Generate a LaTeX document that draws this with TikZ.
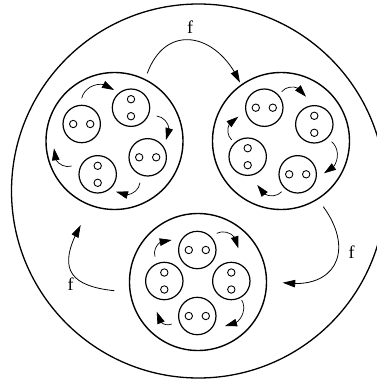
\documentclass[tikz,border=0pt]{standalone}
\usepackage{fontspec}
\setmainfont{Liberation Serif}
\usetikzlibrary{arrows.meta,bending}
\tikzset{
  outerc/.style={circle,draw,line width=1.3pt,minimum size=374pt,inner sep=0pt},
  bigc/.style={circle,draw,line width=1.4pt,minimum size=137pt,inner sep=0pt},
  sc/.style={circle,draw,line width=1.2pt,minimum size=37.4pt,inner sep=0pt},
  dotc/.style={circle,draw,line width=0.9pt,minimum size=7.4pt,inner sep=0pt},
  sarr/.style={line width=0.7pt,-{Triangle[length=12pt,width=7.5pt,flex]}},
  farr/.style={line width=0.8pt,-{Triangle[length=12.5pt,width=7.5pt,flex]}},
  lab/.style={font=\fontsize{18}{21}\selectfont,inner sep=0pt},
}
\newcommand\hball[3]{%
  \node[sc] (#1) at (#2,#3) {};
  \node[dotc] (#1a) at ([xshift=-8.5pt]#1.center) {};
  \node[dotc] (#1b) at ([xshift=8.5pt]#1.center) {};
}
\newcommand\vball[3]{%
  \node[sc] (#1) at (#2,#3) {};
  \node[dotc] (#1a) at ([yshift=8.5pt]#1.center) {};
  \node[dotc] (#1b) at ([yshift=-8.5pt]#1.center) {};
}
\begin{document}
\begin{tikzpicture}[x=1pt,y=-1pt]
\useasboundingbox (0,0) rectangle (377,381);
\clip (0,0) rectangle (377,381);
\node[outerc] (outer) at (198.5,191) {};
% clusters
\node[bigc] (C1) at (114.5,141) {};
\node[bigc] (C2) at (281,141) {};
\node[bigc] (C3) at (198,282) {};
% cluster 1 balls
\hball{L1}{81.7}{124}
\vball{T1}{131}{107.7}
\hball{R1}{147.7}{157.3}
\vball{B1}{97.7}{174.3}
% cluster 2 balls
\hball{L2}{264.3}{107.7}
\vball{T2}{314.3}{124.3}
\hball{R2}{297.7}{174.3}
\vball{B2}{247.7}{156.7}
% cluster 3 balls
\hball{L3}{197.3}{250}
\vball{T3}{231.3}{281}
\hball{R3}{197.3}{316}
\vball{B3}{164.3}{281}
% arrow end points, cluster 1
\coordinate (p11) at (81.7,98.3);  \coordinate (q11) at (114,90);
\coordinate (p12) at (156.7,116);  \coordinate (q12) at (166,140);
\coordinate (p13) at (140,182.7);  \coordinate (q13) at (116,191.7);
\coordinate (p14) at (71.7,166);   \coordinate (q14) at (54,148.3);
% cluster 2
\coordinate (p21) at (281.7,91.7); \coordinate (q21) at (306,96.7);
\coordinate (p22) at (331.7,141.7);\coordinate (q22) at (324,173.3);
\coordinate (p23) at (281.7,191.7);\coordinate (q23) at (257.3,185);
\coordinate (p24) at (231.7,140);  \coordinate (q24) at (238.3,116.7);
% cluster 3
\coordinate (p31) at (216.7,233.3);\coordinate (q31) at (238.3,248.3);
\coordinate (p32) at (241.7,300);  \coordinate (q32) at (225,326);
\coordinate (p33) at (171.7,324);  \coordinate (q33) at (156.7,311.7);
\coordinate (p34) at (155,256.7);  \coordinate (q34) at (171.7,240);
\foreach \c in {1,2,3}{
  \foreach \k in {1,2,3,4}{
    \draw[sarr] (p\c\k) to[bend left=62,looseness=1.1] (q\c\k);
  }
}
% big f arrows
\coordinate (fs1) at (147.3,73.3);  \coordinate (ft1) at (240,82.7);
\coordinate (fs2) at (323.3,206.7); \coordinate (ft2) at (282.7,282.7);
\coordinate (fs3) at (114.3,290.7); \coordinate (ft3) at (80.7,225);
\draw[farr] (fs1) to[out=70,in=114,looseness=1.5] (ft1);
\draw[farr] (fs2) to[out=-54,in=-8,looseness=1.6] (ft2);
\draw[farr] (fs3) to[out=174,in=241,looseness=1.65] (ft3);
\node[lab] (f1) at (190,26.7) {f};
\node[lab] (f2) at (351.7,251.7) {f};
\node[lab] (f3) at (70.7,284) {f};
\end{tikzpicture}
\end{document}
